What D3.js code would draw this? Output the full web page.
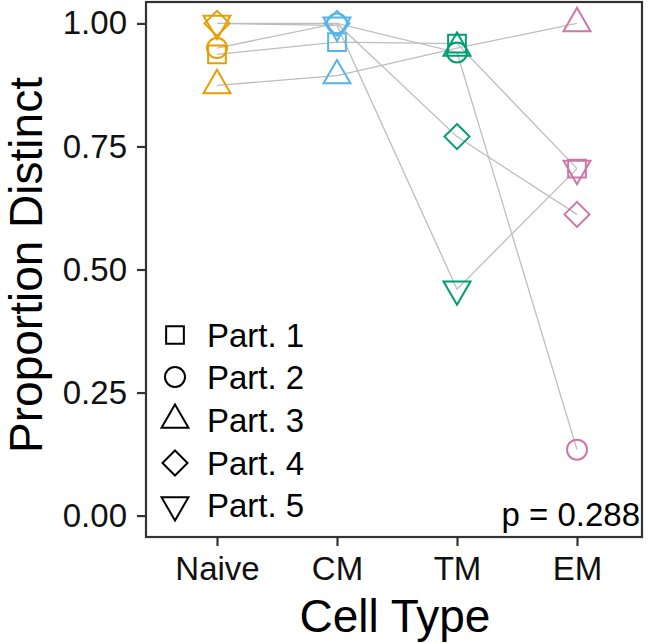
<!DOCTYPE html>
<html>
<head>
<meta charset="utf-8">
<script src="https://cdn.jsdelivr.net/npm/d3@7"></script>
<style>
  html, body { margin: 0; padding: 0; background: #fff; }
  svg { display: block; }
  text { font-family: "Liberation Sans", Arial, Helvetica, sans-serif; }
</style>
</head>
<body>
<svg id="chart" width="650" height="643"></svg>
<script>
// ---- data ----
const categories = ["Naive", "CM", "TM", "EM"];
const categoryColors = ["#E69F00", "#56B4E9", "#009E73", "#CC79A7"];
const participants = ["Part. 1", "Part. 2", "Part. 3", "Part. 4", "Part. 5"];
const shapes = ["square", "circle", "triangle", "diamond", "triangleDown"];
const part1 = [0.937, 0.962, 0.959, 0.705];
const part2 = [0.950, 1.000, 0.941, 0.134];
const part3 = [0.874, 0.894, 0.950, 1.000];
const part4 = [1.000, 1.000, 0.770, 0.612];
const part5 = [1.000, 0.996, 0.460, 0.705];
const seriesValues = [part1, part2, part3, part4, part5];
const yTicks = [0, 0.25, 0.5, 0.75, 1.0];
const pLabel = "p = 0.288";
const xTitle = "Cell Type";
const yTitle = "Proportion Distinct";

// ---- layout ----
const svg = d3.select("#chart");
const panel = { left: 146, right: 642, top: 2, bottom: 537 };
const x = d3.scalePoint().domain(categories).range([217, 577]);
const y = d3.scaleLinear().domain([-0.0435, 1.0435]).range([panel.bottom, panel.top]);
const color = d3.scaleOrdinal().domain(categories).range(categoryColors);

const R = 10;
function shapePath(type, r) {
  const p = d3.path();
  if (type === "circle") {
    p.arc(0, 0, r, 0, 2 * Math.PI);
  } else if (type === "square") {
    const h = 0.886 * r;
    p.rect(-h, -h, 2 * h, 2 * h);
  } else if (type === "diamond") {
    const d = 1.2533 * r;
    p.moveTo(0, -d); p.lineTo(d, 0); p.lineTo(0, d); p.lineTo(-d, 0); p.closePath();
  } else if (type === "triangle" || type === "triangleDown") {
    const s = type === "triangle" ? 1 : -1;
    const tr = 1.5551 * r, xc = 1.3468 * r, yc = 0.7776 * r;
    p.moveTo(0, -s * tr); p.lineTo(xc, s * yc); p.lineTo(-xc, s * yc); p.closePath();
  }
  return p.toString();
}

// panel background
svg.append("rect")
  .attr("x", panel.left).attr("y", panel.top)
  .attr("width", panel.right - panel.left).attr("height", panel.bottom - panel.top)
  .attr("fill", "#fff");

// lines
const rows = seriesValues.map((vals, i) => ({
  name: participants[i], shape: shapes[i],
  pts: vals.map((v, j) => ({ cat: categories[j], v }))
}));
const line = d3.line().x(d => x(d.cat)).y(d => y(d.v));
svg.append("g").selectAll("path").data(rows).join("path")
  .attr("d", d => line(d.pts))
  .attr("fill", "none")
  .attr("stroke", "#bdbdbd")
  .attr("stroke-width", 1.3);

// points
const ptG = svg.append("g");
rows.forEach(r => {
  ptG.selectAll(null).data(r.pts).join("path")
    .attr("transform", d => `translate(${x(d.cat)},${y(d.v)})`)
    .attr("d", shapePath(r.shape, R))
    .attr("fill", "none")
    .attr("stroke", d => color(d.cat))
    .attr("stroke-width", 2);
});

// panel border
svg.append("rect")
  .attr("x", panel.left).attr("y", panel.top)
  .attr("width", panel.right - panel.left).attr("height", panel.bottom - panel.top)
  .attr("fill", "none").attr("stroke", "#333").attr("stroke-width", 2.2);

// y axis
const yAxis = d3.axisLeft(y).tickValues(yTicks).tickFormat(d3.format(".2f")).tickSize(9).tickPadding(10);
const yg = svg.append("g").attr("transform", `translate(${panel.left},0)`).call(yAxis);
yg.select(".domain").remove();
yg.selectAll(".tick line").attr("stroke", "#333").attr("stroke-width", 2.2);
yg.selectAll(".tick text").attr("fill", "#111").style("font-size", "33px")
  .style("font-family", "'Liberation Sans', Arial, sans-serif");

// x axis
const xAxis = d3.axisBottom(x).tickSize(9).tickPadding(11);
const xg = svg.append("g").attr("transform", `translate(0,${panel.bottom})`).call(xAxis);
xg.select(".domain").remove();
xg.selectAll(".tick line").attr("stroke", "#333").attr("stroke-width", 2.2);
xg.selectAll(".tick text").attr("fill", "#111").style("font-size", "33px")
  .style("font-family", "'Liberation Sans', Arial, sans-serif");

// axis titles
svg.append("text").attr("x", 395).attr("y", 632).attr("text-anchor", "middle")
  .attr("fill", "#000").style("font-size", "46px").text(xTitle);
svg.append("text").attr("transform", "translate(42,265) rotate(-90)").attr("text-anchor", "middle")
  .attr("fill", "#000").style("font-size", "46px").text(yTitle);

// legend
const legY = [335, 377, 420, 463, 505];
const leg = svg.append("g");
participants.forEach((name, i) => {
  leg.append("path").attr("transform", `translate(175,${legY[i]})`)
    .attr("d", shapePath(shapes[i], R)).attr("fill", "none")
    .attr("stroke", "#000").attr("stroke-width", 2);
  leg.append("text").attr("x", 207).attr("y", legY[i] + 12)
    .attr("fill", "#000").style("font-size", "33px").text(name);
});

// p value
svg.append("text").attr("x", 640).attr("y", 526).attr("text-anchor", "end")
  .attr("fill", "#000").style("font-size", "33px").text(pLabel);
</script>
</body>
</html>
